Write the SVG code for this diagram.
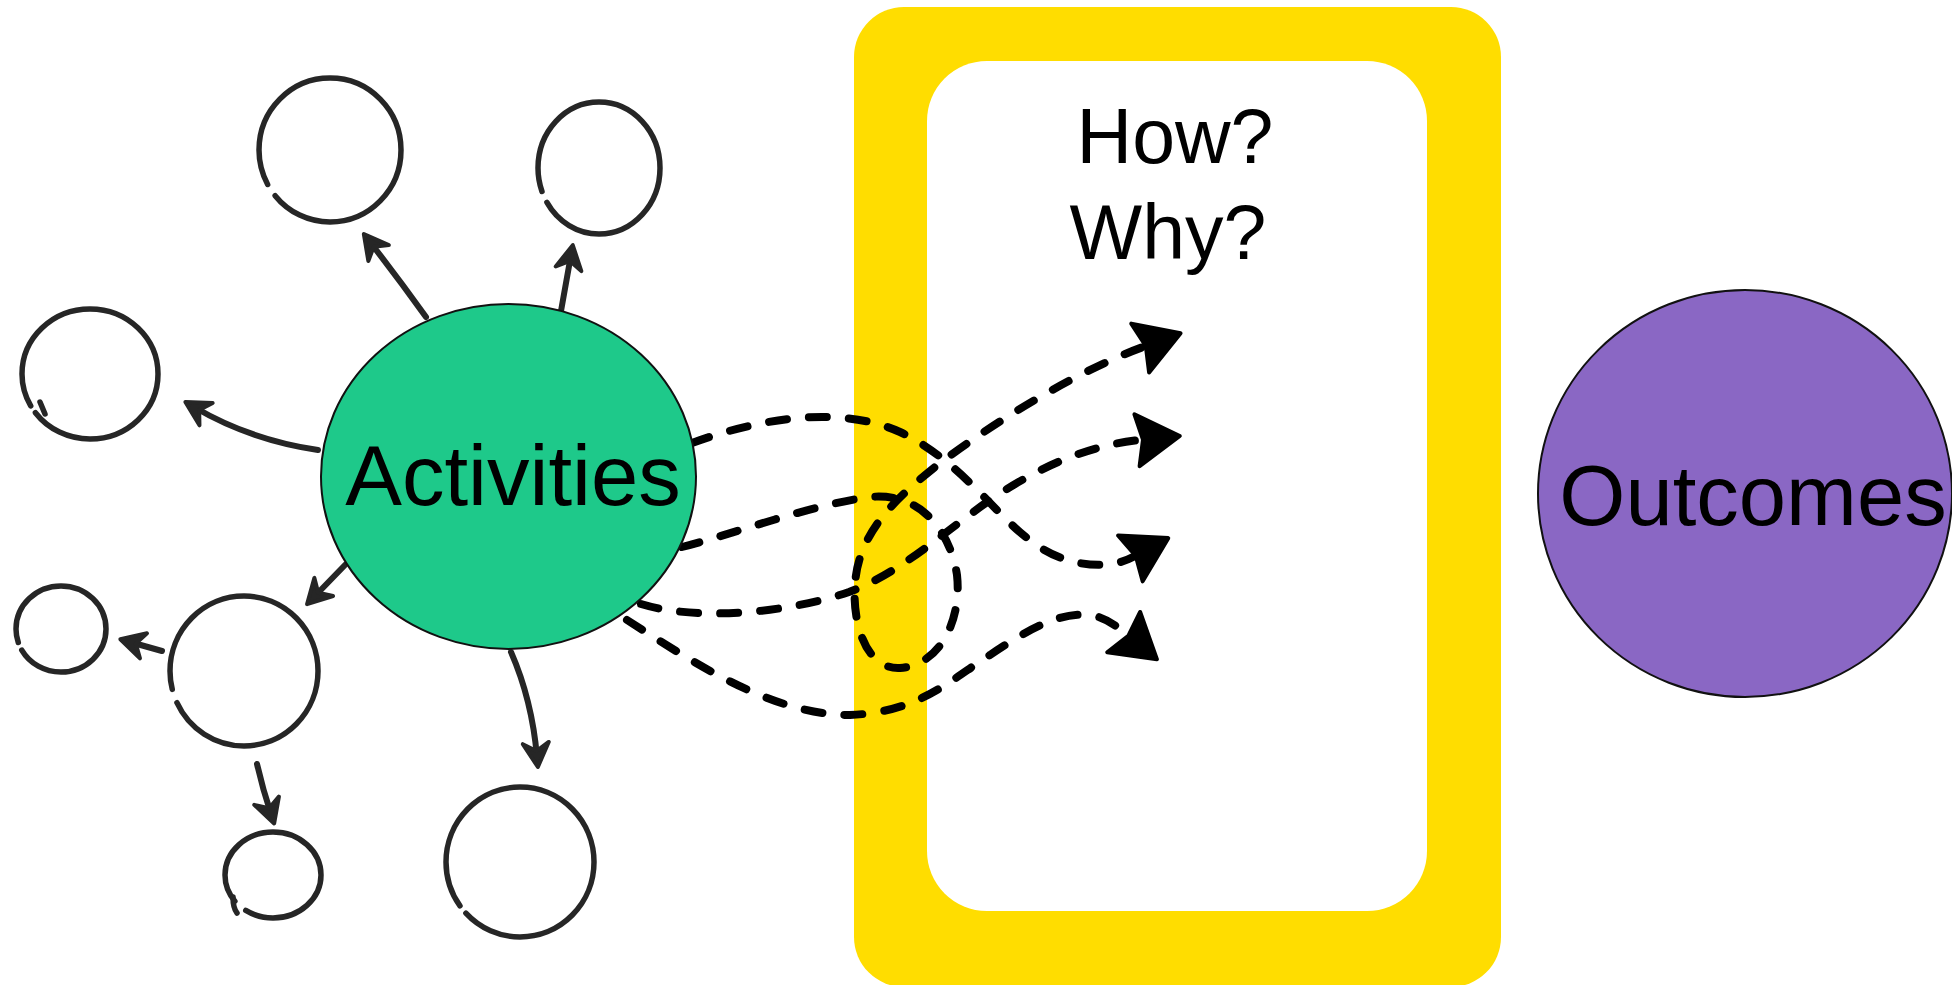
<svg xmlns="http://www.w3.org/2000/svg" width="1952" height="985" viewBox="0 0 1952 985">
  <style>
    .label { font-family: "Liberation Sans", Arial, sans-serif; fill: #000; }
    .sketch { fill: none; stroke: #262626; stroke-width: 5.5; stroke-linecap: round; }
    .sketch-arrow { fill: none; stroke: #262626; stroke-width: 6; stroke-linecap: round; marker-end: url(#sketchHead); }
    .dash { fill: none; stroke: #000; stroke-width: 8; stroke-linecap: round; stroke-dasharray: 18 22; marker-end: url(#dashHead); }
  </style>
  <defs>
    <marker id="dashHead" markerUnits="userSpaceOnUse" orient="auto" markerWidth="100" markerHeight="100" refX="0" refY="0" viewBox="-50 -50 100 100" overflow="visible">
      <path d="M40,0 L-3,-26 L3,0 L-3,26 Z" fill="#000" stroke="#000" stroke-width="4" stroke-linejoin="round"/>
    </marker>
    <marker id="sketchHead" markerUnits="userSpaceOnUse" orient="auto" markerWidth="60" markerHeight="60" refX="0" refY="0" viewBox="-30 -30 60 60" overflow="visible">
      <path d="M10,0 L-14,-13 L-6,0 L-14,13 Z" fill="#262626" stroke="#262626" stroke-width="4" stroke-linejoin="round"/>
    </marker>
  </defs>

  <rect width="1952" height="985" fill="#fff"/>

  <!-- yellow frame with the question panel -->
  <g id="frame">
    <rect x="854" y="7" width="647" height="980" rx="50" ry="50" fill="#FFDD00"/>
    <rect x="927" y="61" width="500" height="850" rx="60" ry="60" fill="#fff"/>
    <text class="label" x="1175" y="163" font-size="77" text-anchor="middle">How?</text>
    <text class="label" x="1168" y="259" font-size="77" text-anchor="middle">Why?</text>
  </g>

  <!-- connectors -->
  <g id="connectors">
    <!-- hand-drawn arrows around Activities -->
    <path class="sketch-arrow" d="M426,317 Q398,278 370,242"/>
    <path class="sketch-arrow" d="M561,311 Q566,283 571,255"/>
    <path class="sketch-arrow" d="M318,450 Q250,440 194,407"/>
    <path class="sketch-arrow" d="M345,565 L314,597"/>
    <path class="sketch-arrow" d="M162,651 L130,642"/>
    <path class="sketch-arrow" d="M257,764 Q263,790 271,814"/>
    <path class="sketch-arrow" d="M511,652 Q532,700 537,757"/>

    <!-- dashed paths crossing the frame -->
    <path class="dash" d="M692,443 C760,418 840,405 900,432 C960,460 1000,520 1030,540 C1060,565 1105,572 1133,557"/>
    <path class="dash" d="M682,547 C740,532 810,505 870,497 C920,492 950,530 957,575 C962,620 940,665 900,668 C865,670 852,620 855,585 C858,530 900,495 940,463 C1000,418 1080,370 1143,347"/>
    <path class="dash" d="M641,604 C700,622 790,612 849,592 C900,573 940,535 990,500 C1040,466 1090,445 1140,440"/>
    <path class="dash" d="M627,620 C690,660 770,715 850,715 C920,712 950,680 990,655 C1030,628 1060,612 1090,615 C1105,617 1115,625 1126,634"/>
  </g>

  <!-- hand-drawn satellite circles -->
  <g id="circle-top">
    <ellipse class="sketch" cx="330" cy="150" rx="71" ry="72" pathLength="100" stroke-dasharray="97 3" stroke-dashoffset="58"/>
  </g>
  <g id="circle-top-right">
    <ellipse class="sketch" cx="599" cy="168" rx="61" ry="66" pathLength="100" stroke-dasharray="97 3" stroke-dashoffset="56"/>
  </g>
  <g id="circle-left">
    <ellipse class="sketch" cx="90" cy="374" rx="68" ry="65" pathLength="100" stroke-dasharray="98 2" stroke-dashoffset="58"/>
    <path class="sketch" d="M40,402 L45,414"/>
  </g>
  <g id="circle-mid-left">
    <ellipse class="sketch" cx="244" cy="671" rx="74" ry="75" pathLength="100" stroke-dasharray="97 3" stroke-dashoffset="54"/>
  </g>
  <g id="circle-far-left">
    <ellipse class="sketch" cx="61" cy="629" rx="45" ry="43" pathLength="100" stroke-dasharray="97 3" stroke-dashoffset="55"/>
  </g>
  <g id="circle-bottom-left">
    <ellipse class="sketch" cx="273" cy="875" rx="48" ry="43" pathLength="100" stroke-dasharray="95 5" stroke-dashoffset="60"/>
    <path class="sketch" d="M233,897 Q233,908 237,913"/>
  </g>
  <g id="circle-bottom">
    <ellipse class="sketch" cx="520" cy="862" rx="74" ry="75" pathLength="100" stroke-dasharray="98 2" stroke-dashoffset="60"/>
  </g>

  <!-- main nodes -->
  <g id="activities">
    <ellipse cx="508.5" cy="476.5" rx="187.5" ry="172.5" fill="#1EC98A" stroke="#111" stroke-width="2"/>
    <text class="label" x="513" y="505" font-size="85" text-anchor="middle">Activities</text>
  </g>
  <g id="outcomes">
    <ellipse cx="1745" cy="493.5" rx="207" ry="203.5" fill="#8A67C4" stroke="#111" stroke-width="2"/>
    <text class="label" x="1753" y="525" font-size="85" text-anchor="middle">Outcomes</text>
  </g>
</svg>
